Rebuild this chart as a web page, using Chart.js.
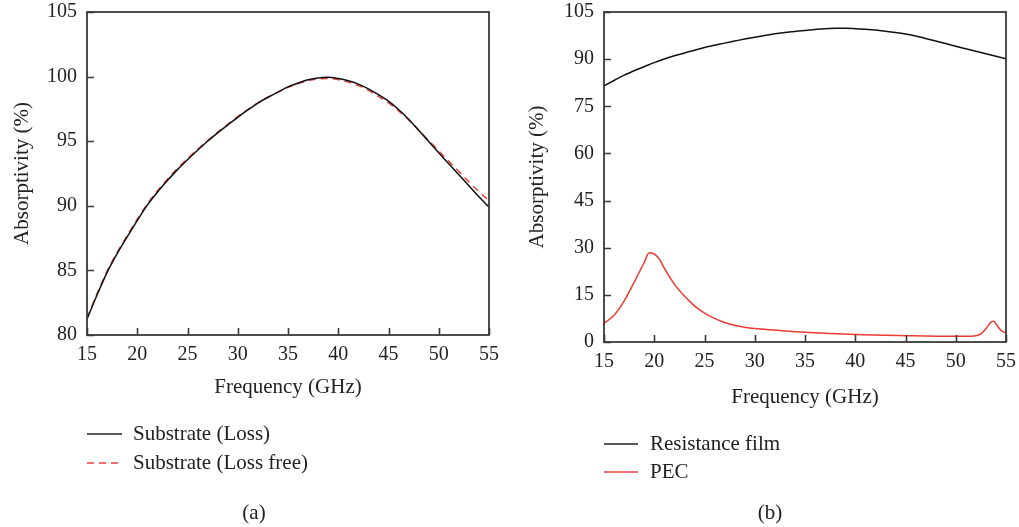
<!DOCTYPE html>
<html>
<head>
<meta charset="utf-8">
<script src="https://cdn.jsdelivr.net/npm/chart.js@4.4.1/dist/chart.umd.min.js"></script>
<style>
  html, body { margin: 0; padding: 0; background: #fff; }
  body { width: 1019px; height: 527px; position: relative; overflow: hidden; font-family: 'Liberation Serif', 'DejaVu Serif', serif; color: #222; }
  .cv { position: absolute; }
  .leg { position: absolute; font-size: 21px; line-height: 24px; white-space: nowrap; }
  .cap { position: absolute; font-size: 21px; transform: translate(-50%, -50%); }
</style>
</head>
<body>
<div class="cv" style="left:0;top:-10px;width:507px;height:410px;"><canvas id="ca"></canvas></div>
<div class="cv" style="left:510px;top:-10px;width:514px;height:420px;"><canvas id="cb"></canvas></div>

<svg style="position:absolute;left:0;top:0" width="1019" height="527">
  <line x1="87" y1="434" x2="122" y2="434" stroke="#222" stroke-width="1.5"/>
  <line x1="87" y1="463" x2="122" y2="463" stroke="#f07070" stroke-width="1.8" stroke-dasharray="7,5"/>
  <line x1="604" y1="444" x2="638" y2="444" stroke="#222" stroke-width="1.5"/>
  <line x1="604" y1="472" x2="638" y2="472" stroke="#f07070" stroke-width="1.8"/>
</svg>
<div class="leg" style="left:133px;top:421px;">Substrate (Loss)</div>
<div class="leg" style="left:133px;top:450px;">Substrate (Loss free)</div>
<div class="leg" style="left:650px;top:431px;">Resistance film</div>
<div class="leg" style="left:650px;top:459px;">PEC</div>
<div class="cap" style="left:254px;top:512px;">(a)</div>
<div class="cap" style="left:770px;top:512px;">(b)</div>

<script>
// ---------- Data ----------
const freqA = [15,16,17,17.5,18,19,20,21,22,23,24,25,26,27,28,29,30,31,32,33,34,35,36,37,38,39,40,41,42,43,44,45,46,47,48,49,50,51,52,53,54,55];
const lossA = [81.24,83.1,84.85,85.6,86.3,87.6,88.86,90.05,91.05,91.95,92.8,93.57,94.3,95.0,95.65,96.25,96.85,97.42,97.95,98.4,98.8,99.2,99.5,99.75,99.9,99.95,99.85,99.68,99.42,99.05,98.6,98.1,97.45,96.7,95.85,94.97,94.1,93.25,92.4,91.55,90.7,89.9];
const lossFreeA = [81.3,83.2,84.95,85.7,86.4,87.7,88.96,90.15,91.15,92.05,92.9,93.65,94.37,95.05,95.7,96.3,96.9,97.45,97.97,98.4,98.8,99.17,99.45,99.68,99.82,99.86,99.76,99.57,99.3,98.93,98.47,97.97,97.35,96.65,95.85,95.05,94.25,93.45,92.65,91.85,91.1,90.4];

const freqB = [15,16,17,17.5,18,19,20,21,22,23,24,25,26,27,28,29,30,31,32,33,34,35,36,37,38,39,40,41,42,43,44,45,46,47,48,49,50,51,52,53,54,55];
const filmB = [81.5,83.2,84.9,85.6,86.3,87.6,88.9,90.05,91.05,91.95,92.85,93.7,94.4,95.1,95.75,96.4,97.0,97.55,98.05,98.45,98.8,99.15,99.45,99.7,99.8,99.82,99.7,99.5,99.25,98.9,98.5,98.0,97.35,96.6,95.8,94.95,94.1,93.3,92.5,91.7,90.9,90.1];

const freqPEC = [15,16,17,18,19,19.5,20,20.5,21,22,23,24,25,26,27,28,29,30,32,35,40,45,50,51,52,52.5,53,53.5,53.8,54,54.5,55];
const pecB = [5.9,8.5,13.0,19.0,25.3,28.4,28.0,26.4,23.5,18.4,14.6,11.5,9.2,7.5,6.2,5.3,4.7,4.3,3.8,3.1,2.35,2.0,1.8,1.8,2.0,2.6,4.25,6.3,6.6,5.8,3.7,2.9];

const xTicks = [15,20,25,30,35,40,45,50,55];
const yTicksA = [80,85,90,95,100,105];
const yTicksB = [0,15,30,45,60,75,90,105];

const toPts = (xs, ys) => xs.map((x, i) => ({x: x, y: ys[i]}));

// ---------- Styling ----------
const FONT = "'Liberation Serif', 'DejaVu Serif', serif";
const AXIS = '#3a3a3a';
const TXT = '#222';

const framePlugin = {
  id: 'frame',
  afterDraw(chart) {
    const {ctx, chartArea: a, scales} = chart;
    ctx.save();
    ctx.strokeStyle = AXIS;
    ctx.lineWidth = 1.6;
    ctx.beginPath();
    scales.x.ticks.forEach(t => {
      const px = Math.round(scales.x.getPixelForValue(t.value)) + 0.5;
      ctx.moveTo(px, a.bottom);
      ctx.lineTo(px, a.bottom - 7);
    });
    scales.y.ticks.forEach(t => {
      const py = Math.round(scales.y.getPixelForValue(t.value)) + 0.5;
      ctx.moveTo(a.left, py);
      ctx.lineTo(a.left + 7, py);
    });
    ctx.stroke();
    ctx.lineWidth = 1.8;
    ctx.strokeRect(a.left, a.top, a.right - a.left, a.bottom - a.top);
    ctx.restore();
  }
};

function makeChart(id, datasets, ymin, ymax, yTickVals, yWidth, xHeight, yTitlePad) {
  return new Chart(document.getElementById(id), {
    type: 'line',
    data: { datasets: datasets },
    plugins: [framePlugin],
    options: {
      responsive: true,
      maintainAspectRatio: false,
      animation: false,
      events: [],
      layout: { padding: 0 },
      plugins: { legend: { display: false }, tooltip: { enabled: false } },
      elements: { point: { radius: 0 } },
      scales: {
        x: {
          type: 'linear', min: 15, max: 55,
          afterBuildTicks: s => { s.ticks = xTicks.map(v => ({value: v})); },
          ticks: { font: { family: FONT, size: 20 }, color: TXT, padding: 8, maxRotation: 0 },
          grid: { display: false, drawTicks: false },
          border: { display: false },
          title: { display: true, text: 'Frequency (GHz)', font: { family: FONT, size: 21 }, color: TXT, padding: { top: 0, bottom: 0 } },
          afterFit: s => { s.height = xHeight; }
        },
        y: {
          type: 'linear', min: ymin, max: ymax,
          afterBuildTicks: s => { s.ticks = yTickVals.map(v => ({value: v})); },
          ticks: { font: { family: FONT, size: 20 }, color: TXT, padding: 10 },
          grid: { display: false, drawTicks: false },
          border: { display: false },
          title: { display: true, text: 'Absorptivity (%)', font: { family: FONT, size: 21 }, color: TXT, padding: { top: yTitlePad, bottom: 0 } },
          afterFit: s => { s.width = yWidth; }
        }
      }
    }
  });
}

makeChart('ca', [
  { data: toPts(freqA, lossA), borderColor: '#111', borderWidth: 1.5, cubicInterpolationMode: 'monotone', fill: false },
  { data: toPts(freqA, lossFreeA), borderColor: '#e8453c', borderWidth: 1.5, borderDash: [7, 5], cubicInterpolationMode: 'monotone', fill: false }
], 80, 105, yTicksA, 87, 65, 10);

makeChart('cb', [
  { data: toPts(freqB, filmB), borderColor: '#111', borderWidth: 1.5, cubicInterpolationMode: 'monotone', fill: false },
  { data: toPts(freqPEC, pecB), borderColor: '#ee3a30', borderWidth: 1.5, cubicInterpolationMode: 'monotone', fill: false }
], 0, 105, yTicksB, 94, 68, 15);
</script>
</body>
</html>
